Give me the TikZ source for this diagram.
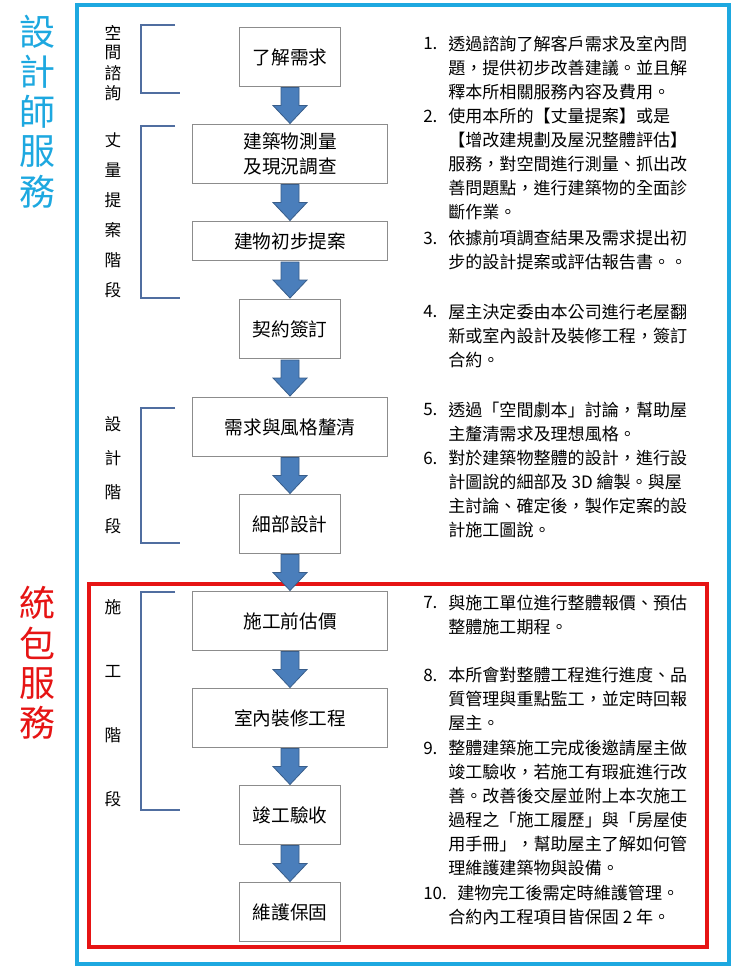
\documentclass[tikz,border=0pt]{standalone}
\usepackage{fontspec}
\setmainfont{Noto Sans CJK TC}
\usetikzlibrary{calc}
\definecolor{frameblue}{RGB}{29,168,224}
\definecolor{framered}{RGB}{230,20,20}
\definecolor{arrowblue}{RGB}{74,126,187}
\definecolor{arrowedge}{RGB}{56,93,138}
\definecolor{bracketblue}{RGB}{80,110,160}

\tikzset{
  stage/.style={draw=black!45,fill=white,inner sep=0pt,align=center,font=\fontsize{14}{19}\selectfont},
  flow/.style={fill=arrowblue,draw=arrowedge,line width=0.6pt},
  vchar/.style={font=\fontsize{12.5}{14}\selectfont,inner sep=0pt},
  big/.style={font=\fontsize{27}{30}\selectfont,inner sep=0pt},
  note/.style={anchor=west,inner sep=0pt,font=\fontsize{12.8}{15}\selectfont},
  bracket/.style={draw=bracketblue,line width=0.8pt}
}

\begin{document}
\begin{tikzpicture}[x=0.75pt,y=-0.75pt]
    \useasboundingbox (0,0) rectangle (740,968);
    \fill[white] (0,0) rectangle (740,968);

    % frames
    \draw[frameblue,line width=3.5pt] (77,5) rectangle (729,964);
    \draw[framered,line width=3pt] (89,584) rectangle (707,947);

    % big side titles
    \foreach \c [count=\i] in {設,計,師,服,務}
        \node[big,text=frameblue] (design\i) at (37,{-8+\i*40}) {\c};
    \foreach \c [count=\i] in {統,包,服,務}
        \node[big,text=framered] (build\i) at (37,{563+\i*40}) {\c};

    % stages
    \node[stage,minimum width=76pt,minimum height=44pt] (Need) at (290,57) {了解需求};
    \node[stage,minimum width=146pt,minimum height=44pt] (Survey) at (290,154) {建築物測量\\及現況調查};
    \node[stage,minimum width=146pt,minimum height=29pt] (Proposal) at (290,241) {建物初步提案};
    \node[stage,minimum width=76pt,minimum height=44pt] (Contract) at (290,329) {契約簽訂};
    \node[stage,minimum width=146pt,minimum height=44pt] (Style) at (290,427) {需求與風格釐清};
    \node[stage,minimum width=76pt,minimum height=44pt] (Detail) at (290,524) {細部設計};
    \node[stage,minimum width=146pt,minimum height=44pt] (Quote) at (290,621) {施工前估價};
    \node[stage,minimum width=146pt,minimum height=44pt] (Work) at (290,718) {室內裝修工程};
    \node[stage,minimum width=76pt,minimum height=44pt] (Check) at (290,815) {竣工驗收};
    \node[stage,minimum width=76pt,minimum height=44pt] (Keep) at (290,912) {維護保固};

    % flow arrows
    \foreach \a/\b in {Need/Survey,Survey/Proposal,Proposal/Contract,Contract/Style,
                       Style/Detail,Detail/Quote,Quote/Work,Work/Check,Check/Keep}
        \draw[flow,shift={($(\a.south)!0.5!(\b.north)$)}]
            (-9,-18) -- (9,-18) -- (9,0) -- (17,0) -- (0,18) -- (-17,0) -- (-9,0) -- cycle;

    % phase labels
    \foreach \c [count=\i] in {空,間,諮,詢}
        \node[vchar] (consult\i) at (113,{13+\i*20}) {\c};
    \foreach \c [count=\i] in {丈,量,提,案,階,段}
        \node[vchar] (measure\i) at (113,{110+\i*30}) {\c};
    \foreach \c [count=\i] in {設,計,階,段}
        \node[vchar] (plan\i) at (113,{390+\i*34}) {\c};
    \foreach \c [count=\i] in {施,工,階,段}
        \node[vchar] (site\i) at (113,{543+\i*64}) {\c};

    % brackets
    \draw[bracket] (175,25) -- (141,25) -- (141,93) -- (180,93);
    \draw[bracket] (175,126) -- (141,126) -- (141,298) -- (180,298);
    \draw[bracket] (175,408) -- (141,408) -- (141,543) -- (180,543);
    \draw[bracket] (175,592) -- (141,592) -- (141,810) -- (180,810);

    % notes
    \foreach \n/\y in {1./44,2./116,3./238,4./312,5./410,6./458,7./603,8./675,9./748,10./893}
        \node[note] at (423,\y) {\n};
    \foreach \t/\y in {
        透過諮詢了解客戶需求及室內問/44,題，提供初步改善建議。並且解/68,釋本所相關服務內容及費用。/92,
        使用本所的【丈量提案】或是/116,【增改建規劃及屋況整體評估】/140,服務，對空間進行測量、抓出改/164,
        善問題點，進行建築物的全面診/188,斷作業。/212,
        依據前項調查結果及需求提出初/238,步的設計提案或評估報告書。。/262,
        屋主決定委由本公司進行老屋翻/312,新或室內設計及裝修工程，簽訂/336,合約。/360,
        透過「空間劇本」討論，幫助屋/410,主釐清需求及理想風格。/434,
        對於建築物整體的設計，進行設/458,計圖說的細部及 3D 繪製。與屋/482,主討論、確定後，製作定案的設/506,計施工圖說。/530,
        與施工單位進行整體報價、預估/603,整體施工期程。/627,
        本所會對整體工程進行進度、品/675,質管理與重點監工，並定時回報/699,屋主。/723,
        整體建築施工完成後邀請屋主做/748,竣工驗收，若施工有瑕疵進行改/772,善。改善後交屋並附上本次施工/796,
        過程之「施工履歷」與「房屋使/820,用手冊」，幫助屋主了解如何管/844,理維護建築物與設備。/868}
        \node[note] at (448,\y) {\t};
    \node[note] at (457,893) {建物完工後需定時維護管理。};
    \node[note] at (448,917) {合約內工程項目皆保固 2 年。};
\end{tikzpicture}
\end{document}
